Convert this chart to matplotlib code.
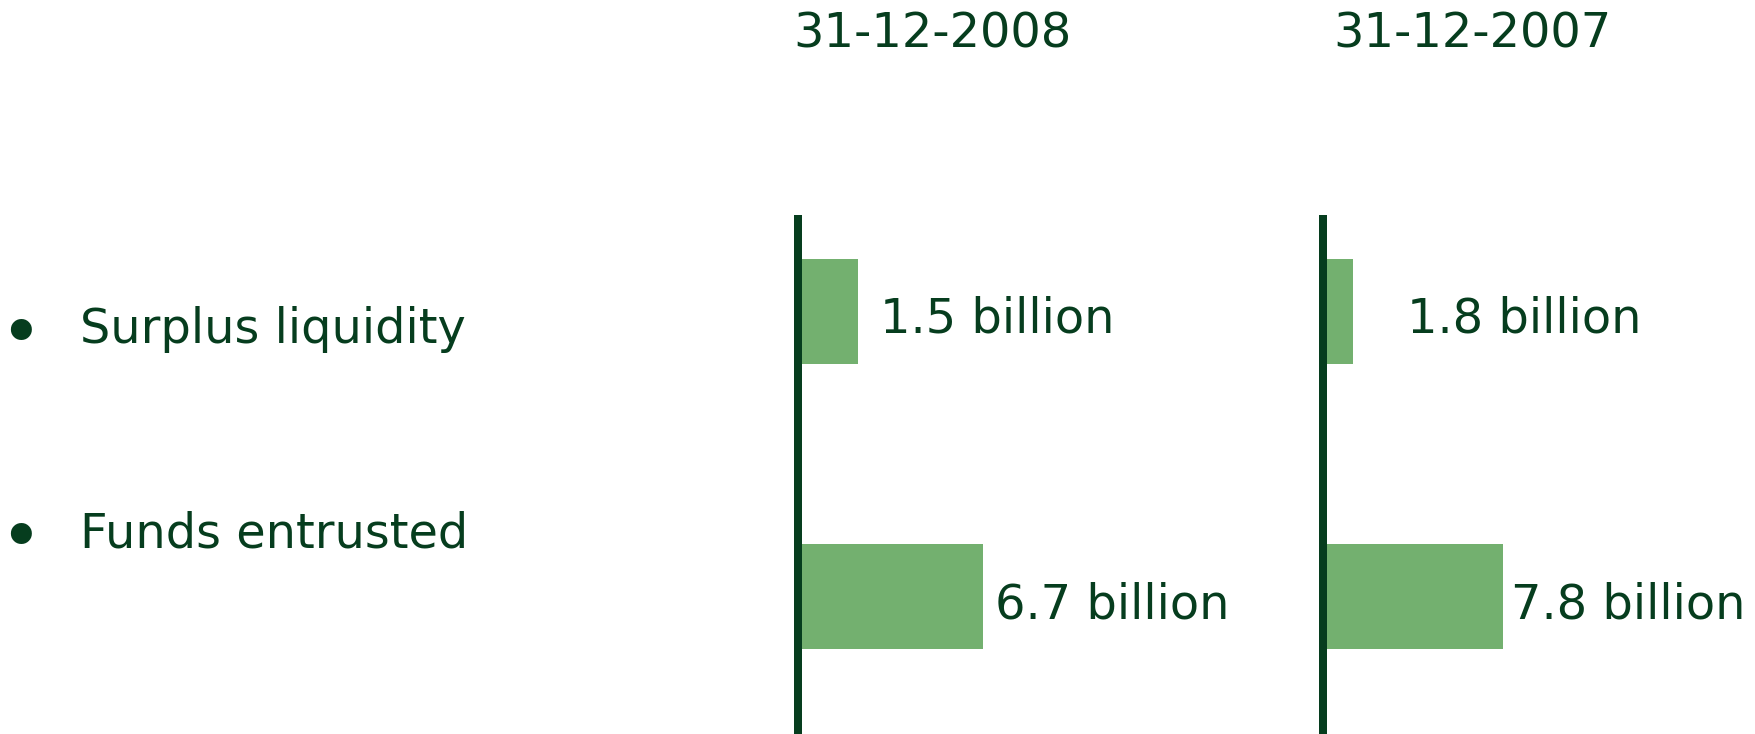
import matplotlib.pyplot as plt

# Data
categories = ["Surplus liquidity", "Funds entrusted"]
dates = ["31-12-2008", "31-12-2007"]
labels_2008 = ["1.5 billion", "6.7 billion"]
labels_2007 = ["1.8 billion", "7.8 billion"]
# bar lengths as drawn in the picture (not proportional to the labels)
bars_2008 = [2.17, 6.7]
bars_2007 = [1.09, 6.52]

# Styling / layout
W, H = 1756, 734
dark = "#063d1e"
light = "#73b06f"
fsize = 34.5
px_per_unit = 27.6
label_x = [[2.97, 7.14], [3.04, 6.81]]
panel_left = [798, 1323]
head_left = [793, 1333]

plt.rcParams['font.family'] = ['DejaVu Sans']
fig = plt.figure(figsize=(W / 100, H / 100), dpi=100)

for i, (bars, labels) in enumerate([(bars_2008, labels_2008), (bars_2007, labels_2007)]):
    ax_w = 420
    ax = fig.add_axes([panel_left[i] / W, 0, ax_w / W, (H - 215) / H])
    ax.set_xlim(0, ax_w / px_per_unit)
    ax.set_ylim(1.481, -0.340)
    ax.barh(range(len(bars)), bars, height=0.368, color=light, zorder=1)
    for j, lab in enumerate(labels):
        ax.text(label_x[i][j], j + 0.074, lab, fontsize=fsize, color=dark,
                va='baseline', ha='left', clip_on=False)
    for s in ['top', 'right', 'bottom']:
        ax.spines[s].set_visible(False)
    ax.spines['left'].set_linewidth(5.76)
    ax.spines['left'].set_color(dark)
    ax.spines['left'].set_capstyle('butt')
    ax.spines['left'].set_zorder(3)
    ax.set_xticks([])
    ax.set_yticks([])
    ax.patch.set_alpha(0)
    fig.text(head_left[i] / W, 1 - 47 / H, dates[i], fontsize=fsize, color=dark,
             ha='left', va='baseline')

baselines = [343, 547]
bullet_y = [336, 540]
for cat, b, by in zip(categories, baselines, bullet_y):
    fig.text(80 / W, 1 - b / H, cat, fontsize=fsize, color=dark, ha='left', va='baseline')
    fig.text(20 / W, 1 - by / H, "\u2022", fontsize=52, color=dark, ha='center', va='center')

fig.savefig("out.png", dpi=100, facecolor='white')
